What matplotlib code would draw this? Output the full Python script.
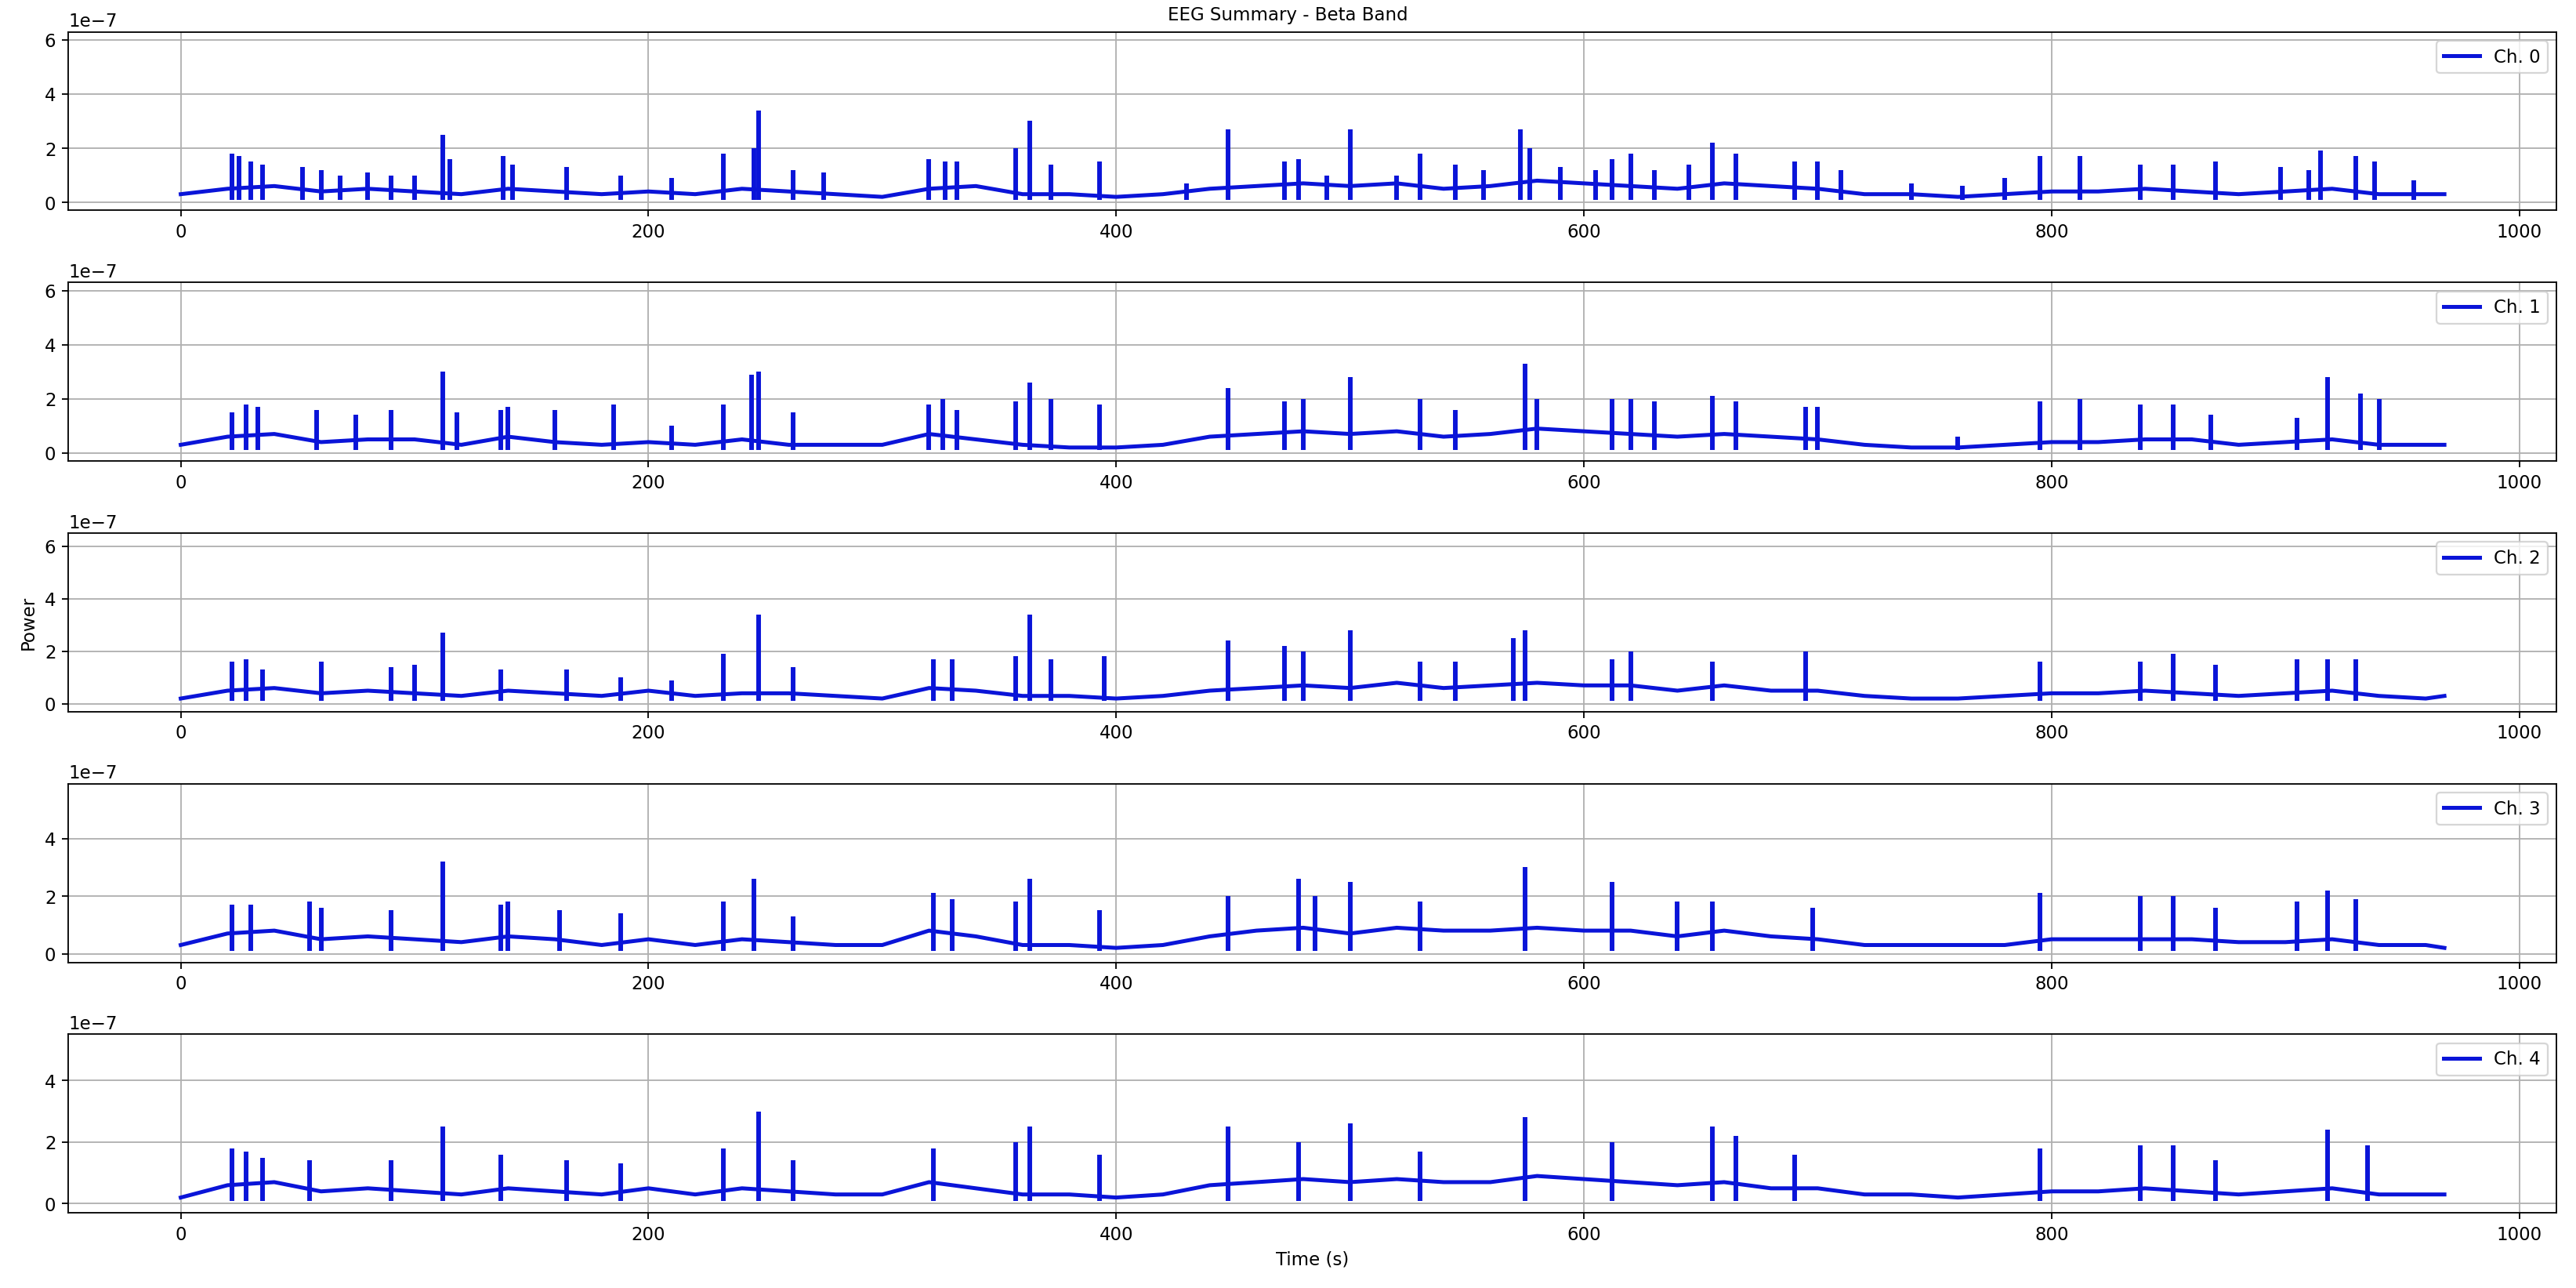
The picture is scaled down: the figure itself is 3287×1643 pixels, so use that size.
import matplotlib
matplotlib.use("Agg")
import matplotlib.pyplot as plt
import numpy as np

channels = ["Ch. 0", "Ch. 1", "Ch. 2", "Ch. 3", "Ch. 4"]
base_t = list(range(0, 961, 20)) + [968]

base0 = [0.3,0.5,0.6,0.4,0.5,0.4,0.3,0.5,0.4,0.3,0.4,0.3,0.5,0.4,0.3,0.2,0.5,0.6,0.3,0.3,0.2,0.3,0.5,0.6,0.7,0.6,0.7,0.5,0.6,0.8,0.7,0.6,0.5,0.7,0.6,0.5,0.3,0.3,0.2,0.3,0.4,0.4,0.5,0.4,0.3,0.4,0.5,0.3,0.3,0.3]
base1 = [0.3,0.6,0.7,0.4,0.5,0.5,0.3,0.6,0.4,0.3,0.4,0.3,0.5,0.3,0.3,0.3,0.7,0.5,0.3,0.2,0.2,0.3,0.6,0.7,0.8,0.7,0.8,0.6,0.7,0.9,0.8,0.7,0.6,0.7,0.6,0.5,0.3,0.2,0.2,0.3,0.4,0.4,0.5,0.5,0.3,0.4,0.5,0.3,0.3,0.3]
base2 = [0.2,0.5,0.6,0.4,0.5,0.4,0.3,0.5,0.4,0.3,0.5,0.3,0.4,0.4,0.3,0.2,0.6,0.5,0.3,0.3,0.2,0.3,0.5,0.6,0.7,0.6,0.8,0.6,0.7,0.8,0.7,0.7,0.5,0.7,0.5,0.5,0.3,0.2,0.2,0.3,0.4,0.4,0.5,0.4,0.3,0.4,0.5,0.3,0.2,0.3]
base3 = [0.3,0.7,0.8,0.5,0.6,0.5,0.4,0.6,0.5,0.3,0.5,0.3,0.5,0.4,0.3,0.3,0.8,0.6,0.3,0.3,0.2,0.3,0.6,0.8,0.9,0.7,0.9,0.8,0.8,0.9,0.8,0.8,0.6,0.8,0.6,0.5,0.3,0.3,0.3,0.3,0.5,0.5,0.5,0.5,0.4,0.4,0.5,0.3,0.3,0.2]
base4 = [0.2,0.6,0.7,0.4,0.5,0.4,0.3,0.5,0.4,0.3,0.5,0.3,0.5,0.4,0.3,0.3,0.7,0.5,0.3,0.3,0.2,0.3,0.6,0.7,0.8,0.7,0.8,0.7,0.7,0.9,0.8,0.7,0.6,0.7,0.5,0.5,0.3,0.3,0.2,0.3,0.4,0.4,0.5,0.4,0.3,0.4,0.5,0.3,0.3,0.3]

peaks0 = [(22,1.8),(25,1.7),(30,1.5),(35,1.4),(52,1.3),(60,1.2),(68,1.0),(80,1.1),(90,1.0),(100,1.0),(112,2.5),(115,1.6),(138,1.7),(142,1.4),(165,1.3),(188,1.0),(210,0.9),(232,1.8),(245,2.0),(247,3.4),(262,1.2),(275,1.1),(320,1.6),(327,1.5),(332,1.5),(357,2.0),(363,3.0),(372,1.4),(393,1.5),(430,0.7),(448,2.7),(472,1.5),(478,1.6),(490,1.0),(500,2.7),(520,1.0),(530,1.8),(545,1.4),(557,1.2),(573,2.7),(577,2.0),(590,1.3),(605,1.2),(612,1.6),(620,1.8),(630,1.2),(645,1.4),(655,2.2),(665,1.8),(690,1.5),(700,1.5),(710,1.2),(740,0.7),(762,0.6),(780,0.9),(795,1.7),(812,1.7),(838,1.4),(852,1.4),(870,1.5),(898,1.3),(910,1.2),(915,1.9),(930,1.7),(938,1.5),(955,0.8)]
peaks1 = [(22,1.5),(28,1.8),(33,1.7),(58,1.6),(75,1.4),(90,1.6),(112,3.0),(118,1.5),(137,1.6),(140,1.7),(160,1.6),(185,1.8),(210,1.0),(232,1.8),(244,2.9),(247,3.0),(262,1.5),(320,1.8),(326,2.0),(332,1.6),(357,1.9),(363,2.6),(372,2.0),(393,1.8),(448,2.4),(472,1.9),(480,2.0),(500,2.8),(530,2.0),(545,1.6),(575,3.3),(580,2.0),(612,2.0),(620,2.0),(630,1.9),(655,2.1),(665,1.9),(695,1.7),(700,1.7),(760,0.6),(795,1.9),(812,2.0),(838,1.8),(852,1.8),(868,1.4),(905,1.3),(918,2.8),(932,2.2),(940,2.0)]
peaks2 = [(22,1.6),(28,1.7),(35,1.3),(60,1.6),(90,1.4),(100,1.5),(112,2.7),(137,1.3),(165,1.3),(188,1.0),(210,0.9),(232,1.9),(247,3.4),(262,1.4),(322,1.7),(330,1.7),(357,1.8),(363,3.4),(372,1.7),(395,1.8),(448,2.4),(472,2.2),(480,2.0),(500,2.8),(530,1.6),(545,1.6),(570,2.5),(575,2.8),(612,1.7),(620,2.0),(655,1.6),(695,2.0),(795,1.6),(838,1.6),(852,1.9),(870,1.5),(905,1.7),(918,1.7),(930,1.7)]
peaks3 = [(22,1.7),(30,1.7),(55,1.8),(60,1.6),(90,1.5),(112,3.2),(137,1.7),(140,1.8),(162,1.5),(188,1.4),(232,1.8),(245,2.6),(262,1.3),(322,2.1),(330,1.9),(357,1.8),(363,2.6),(393,1.5),(448,2.0),(478,2.6),(485,2.0),(500,2.5),(530,1.8),(575,3.0),(612,2.5),(640,1.8),(655,1.8),(698,1.6),(795,2.1),(838,2.0),(852,2.0),(870,1.6),(905,1.8),(918,2.2),(930,1.9)]
peaks4 = [(22,1.8),(28,1.7),(35,1.5),(55,1.4),(90,1.4),(112,2.5),(137,1.6),(165,1.4),(188,1.3),(232,1.8),(247,3.0),(262,1.4),(322,1.8),(357,2.0),(363,2.5),(393,1.6),(448,2.5),(478,2.0),(500,2.6),(530,1.7),(575,2.8),(612,2.0),(655,2.5),(665,2.2),(690,1.6),(795,1.8),(838,1.9),(852,1.9),(870,1.4),(918,2.4),(935,1.9)]

bases = [base0, base1, base2, base3, base4]
peaks = [peaks0, peaks1, peaks2, peaks3, peaks4]
ylims = [(-0.3, 6.3), (-0.3, 6.3), (-0.3, 6.5), (-0.3, 5.9), (-0.3, 5.5)]
color = "#0a14d8"

fig, axes = plt.subplots(5, 1, figsize=(20, 10), dpi=164.35)
for i, ax in enumerate(axes):
    bt = np.array(base_t)
    bv = np.array(bases[i]) * 1e-7
    ax.plot(bt, bv, color=color, lw=2.2, label=channels[i])
    pt = np.array([p[0] for p in peaks[i]])
    pv = np.array([p[1] for p in peaks[i]]) * 1e-7
    ax.vlines(pt, 0.1e-7, pv, color=color, lw=2.6)
    ax.set_ylim(ylims[i][0] * 1e-7, ylims[i][1] * 1e-7)
    ax.set_xlim(-48, 1016)
    ax.grid(True)
    ax.legend(loc="upper right")
axes[2].set_ylabel("Power")
axes[-1].set_xlabel("Time (s)")
fig.suptitle("EEG Summary - Beta Band", fontsize=10, y=0.995)
fig.tight_layout()
fig.subplots_adjust(top=0.975)
fig.savefig("out.png")
